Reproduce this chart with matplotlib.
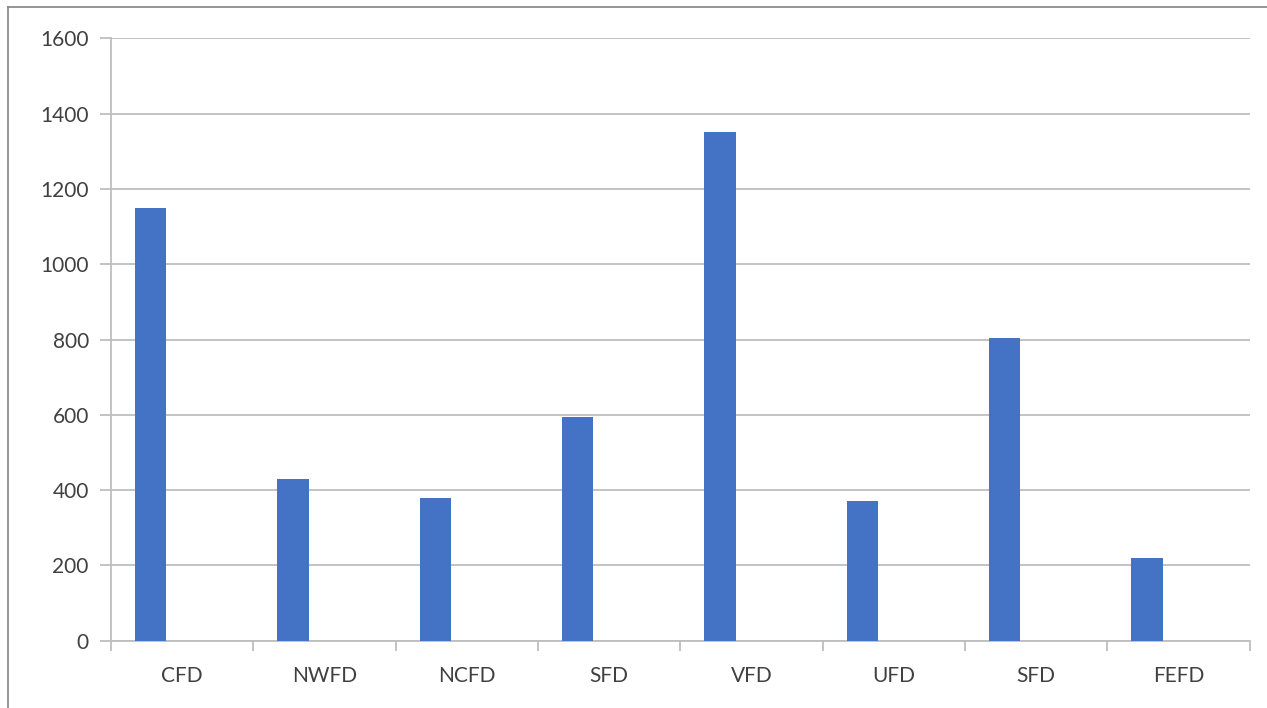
import matplotlib
matplotlib.use("Agg")
import matplotlib.pyplot as plt
from matplotlib.lines import Line2D
import numpy as np

categories = ["CFD", "NWFD", "NCFD", "SFD", "VFD", "UFD", "SFD", "FEFD"]
values = [1150, 430, 380, 595, 1350, 370, 805, 220]
yticks = [0, 200, 400, 600, 800, 1000, 1200, 1400, 1600]

plt.rcParams['font.family'] = ['Lato', 'DejaVu Sans']
W, H = 1267, 708
fig = plt.figure(figsize=(W/100, H/100), dpi=100)
ax = fig.add_axes([111/W, 1-640.7/H, (1250-111.5)/W, (640.7-38.3)/H])

x = np.arange(len(categories))
ax.bar(x - 0.221, values, width=0.22, color="#4472C4", zorder=3)

ax.set_xlim(-0.5, len(categories) - 0.5)
ax.set_ylim(0, 1600)
ax.set_yticks(yticks)
ax.set_yticklabels([str(v) for v in yticks])
ax.set_xticks(x)
ax.set_xticklabels(categories)
ax.set_xticks(np.arange(-0.5, len(categories)), minor=True)

grid_c = "#BEBEBE"
ax.yaxis.grid(True, color=grid_c, linewidth=1.3, zorder=0)
for s in ["top", "right"]:
    ax.spines[s].set_visible(False)
for s in ["left", "bottom"]:
    ax.spines[s].set_color(grid_c)
    ax.spines[s].set_linewidth(1.3)

ax.tick_params(axis="x", which="major", length=0, pad=18, labelsize=15, labelcolor="#404040")
ax.tick_params(axis="x", which="minor", length=7, width=1.3, color=grid_c, direction="out")
ax.tick_params(axis="y", length=8, width=1.3, color=grid_c, pad=8, labelsize=15, labelcolor="#404040")

border_c = "#8C8C8C"
fig.add_artist(Line2D([8/W, 1], [1-7/H, 1-7/H], color=border_c, linewidth=1.3, transform=fig.transFigure))
fig.add_artist(Line2D([8/W, 8/W], [0, 1-7/H], color=border_c, linewidth=1.3, transform=fig.transFigure))

fig.savefig("out.png", dpi=100)
